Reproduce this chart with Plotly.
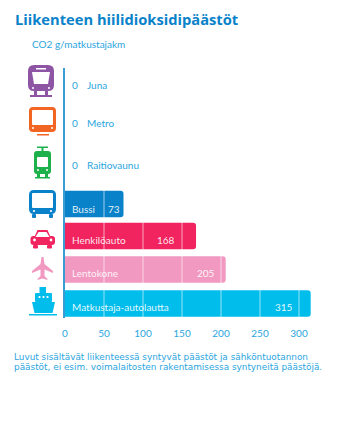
import plotly.graph_objects as go

W, H = 364, 428

# --- data ---
categories = ["Juna", "Metro", "Raitiovaunu", "Bussi", "Henkilöauto", "Lentokone", "Matkustaja-autolautta"]
values = [0, 0, 0, 75, 168, 206, 315]
value_labels = ["0", "0", "0", "73", "168", "205", "315"]
colors = ["#8e55a5", "#f26522", "#1db14b", "#0a82c9", "#f1245f", "#f299c1", "#00bdec"]
tick_values = [0, 50, 100, 150, 200, 250, 300]

# --- layout constants (pixel rows on the page) ---
row_centers = [85, 123, 165, 204, 236, 269.5, 303.5]
label_rows = [85, 123, 165, 209, 240, 273, 307]
label_right_px = [None, None, None, 121, 176, 216, 294]
TEXT = "#2aa5e0"
NARROW = "Lato, sans-serif"
NARROW_SIZE = 10
X0, PX_PER_UNIT = 65, 0.78
PLOT_RIGHT = 335
Y_TOP, Y_BOTTOM = 68, 318


def fx(px):
    return px / W


def fy(py):
    return 1 - py / H


def rect(x0, y0, x1, y1, color, radius=0):
    r = radius
    if r:
        p = (f"M{fx(x0 + r)},{fy(y0)} L{fx(x1 - r)},{fy(y0)} Q{fx(x1)},{fy(y0)} {fx(x1)},{fy(y0 + r)} "
             f"L{fx(x1)},{fy(y1 - r)} Q{fx(x1)},{fy(y1)} {fx(x1 - r)},{fy(y1)} "
             f"L{fx(x0 + r)},{fy(y1)} Q{fx(x0)},{fy(y1)} {fx(x0)},{fy(y1 - r)} "
             f"L{fx(x0)},{fy(y0 + r)} Q{fx(x0)},{fy(y0)} {fx(x0 + r)},{fy(y0)} Z")
    else:
        p = f"M{fx(x0)},{fy(y0)} L{fx(x1)},{fy(y0)} L{fx(x1)},{fy(y1)} L{fx(x0)},{fy(y1)} Z"
    return dict(type="path", xref="paper", yref="paper", path=p, fillcolor=color,
                line=dict(width=0), layer="above")


def poly(points, color):
    p = "M" + " L".join(f"{fx(a)},{fy(b)}" for a, b in points) + " Z"
    return dict(type="path", xref="paper", yref="paper", path=p, fillcolor=color,
                line=dict(width=0), layer="above")


def dot(cx, cy, r, color):
    return rect(cx - r, cy - r, cx + r, cy + r, color, r * 0.95)


WHITE = "#ffffff"
icons = []
# train
c = colors[0]
icons += [rect(28, 65, 54, 91, c, 6), rect(30, 95, 52, 97, c),
          poly([(32, 72), (50, 72), (48, 84), (34, 84)], WHITE),
          rect(36, 68, 46, 69.5, WHITE), dot(33, 88, 1, WHITE), dot(49, 88, 1, WHITE),
          rect(34, 91, 37, 95, c), rect(45, 91, 48, 95, c)]
# metro
c = colors[1]
icons += [rect(29, 107, 56, 132, c, 4), rect(32, 110, 53, 125, WHITE, 1),
          dot(33, 128, 1, WHITE), dot(52, 128, 1, WHITE), rect(37, 134, 49, 135.5, c)]
# tram
c = colors[2]
icons += [rect(34, 151, 51, 174, c, 3), rect(37, 157, 48, 167, WHITE, 1),
          rect(37, 146.5, 48, 148, c), rect(41.5, 148, 43.5, 151, c),
          dot(38, 170, 1, WHITE), dot(47, 170, 1, WHITE), rect(35, 177, 50, 178.5, c),
          rect(37, 174, 40, 177, c), rect(45, 174, 48, 177, c)]
# bus
c = colors[3]
icons += [rect(29, 190, 56, 214, c, 5), rect(32, 193, 53, 208, WHITE, 1),
          dot(34, 211, 1.1, WHITE), dot(51, 211, 1.1, WHITE),
          rect(32, 214, 36, 218, c, 1), rect(49, 214, 53, 218, c, 1)]
# car
c = colors[4]
icons += [rect(30.5, 236, 55, 245, c, 3), poly([(34, 238), (37.5, 230), (47.5, 230), (51, 238)], c),
          poly([(35.5, 237), (38.5, 232), (46.5, 232), (49.5, 237)], WHITE),
          rect(33, 245, 38, 248.5, c, 1), rect(47, 245, 52, 248.5, c, 1),
          dot(34.5, 240, 1.4, WHITE), dot(51, 240, 1.4, WHITE)]
# plane
c = colors[5]
icons += [poly([(41.5, 257), (43.5, 257), (44.5, 264), (53, 271), (53, 273), (44.5, 269.5), (44.5, 276),
                (47.5, 279), (47.5, 280), (42.5, 278.5), (37.5, 280), (37.5, 279), (40.5, 276), (40.5, 269.5),
                (32, 273), (32, 271), (40.5, 264)], c)]
# ferry
c = colors[6]
icons += [rect(39.5, 287, 46, 293, c), rect(35, 293, 52, 302, c, 1),
          poly([(32, 302), (55, 302), (52.5, 313), (34.5, 313)], c),
          dot(39.5, 297, 1.1, WHITE), dot(43.5, 297, 1.1, WHITE), dot(47.5, 297, 1.1, WHITE),
          rect(29, 314, 57, 315.5, c)]

gridlines = [dict(type="line", xref="x", yref="y", x0=v, x1=v, y0=Y_TOP, y1=Y_BOTTOM,
                  line=dict(color="rgba(255,255,255,0.6)", width=1), layer="above")
             for v in tick_values[1:]]

fig = go.Figure(go.Bar(
    x=values, y=row_centers, orientation="h", width=26.5,
    marker=dict(color=colors, cornerradius=3, line=dict(width=0)),
    hoverinfo="skip",
))

ann = []
for i, name in enumerate(categories):
    y = label_rows[i]
    if values[i] == 0:
        ann.append(dict(x=7 / PX_PER_UNIT, y=y, xref="x", yref="y", text=value_labels[i], showarrow=False,
                        xanchor="left", yanchor="middle", borderpad=0, xshift=-1,
                        font=dict(color=TEXT, size=NARROW_SIZE, family=NARROW)))
        ann.append(dict(x=22 / PX_PER_UNIT, y=y, xref="x", yref="y", text=name, showarrow=False,
                        xanchor="left", yanchor="middle", borderpad=0, xshift=-1,
                        font=dict(color=TEXT, size=NARROW_SIZE, family=NARROW)))
    else:
        ann.append(dict(x=7 / PX_PER_UNIT, y=y, xref="x", yref="y", text=name, showarrow=False,
                        xanchor="left", yanchor="middle", borderpad=0, xshift=-1,
                        font=dict(color="rgba(255,255,255,0.9)", size=NARROW_SIZE, family=NARROW)))
        ann.append(dict(x=(label_right_px[i] - X0) / PX_PER_UNIT, y=y, xref="x", yref="y",
                        text=value_labels[i], showarrow=False, xanchor="right", yanchor="middle", borderpad=0,
                        font=dict(color="rgba(255,255,255,0.9)", size=NARROW_SIZE, family=NARROW)))


def page_text(x, y, text, color, size, family):
    return dict(x=fx(x), y=fy(y), xref="paper", yref="paper", text=text, showarrow=False,
                xanchor="left", yanchor="middle", borderpad=0, font=dict(color=color, size=size, family=family))


ann += [
    page_text(14, 19, "<b>Liikenteen hiilidioksidipäästöt</b>", "#0a82c9", 14.7, "'Open Sans', sans-serif"),
    page_text(31, 44, "CO2 g/matkustajakm", TEXT, NARROW_SIZE, NARROW),
    page_text(13, 356.5, "Luvut sisältävät liikenteessä syntyvät päästöt ja sähköntuotannon", TEXT, 8.9, "'DejaVu Sans', sans-serif"),
    page_text(13, 367, "päästöt, ei esim. voimalaitosten rakentamisessa syntyneitä päästöjä.", TEXT, 8.9, "'DejaVu Sans', sans-serif"),
]

fig.update_layout(
    width=W, height=H, margin=dict(l=0, r=0, t=0, b=0, pad=0), autosize=False,
    paper_bgcolor="white", plot_bgcolor="white", showlegend=False,
    shapes=gridlines + icons, annotations=ann,
    xaxis=dict(domain=[X0 / W, PLOT_RIGHT / W], range=[0, (PLOT_RIGHT - X0) / PX_PER_UNIT], automargin=False,
               tickmode="array", tickvals=tick_values, ticktext=[str(v) for v in tick_values],
               showgrid=False, zeroline=False, showline=False, ticks="", ticklabelstandoff=8,
               tickfont=dict(color=TEXT, size=NARROW_SIZE, family=NARROW), anchor="y"),
    yaxis=dict(domain=[fy(Y_BOTTOM), fy(Y_TOP)], range=[Y_BOTTOM, Y_TOP], showticklabels=False, automargin=False,
               showgrid=False, zeroline=False, showline=True, linecolor="#3a9bd5", linewidth=1.5,
               ticks="", anchor="x"),
)

fig.write_html("out.html", post_script="document.body.style.margin='0';document.documentElement.style.overflow='hidden';",
               config=dict(displayModeBar=False))
